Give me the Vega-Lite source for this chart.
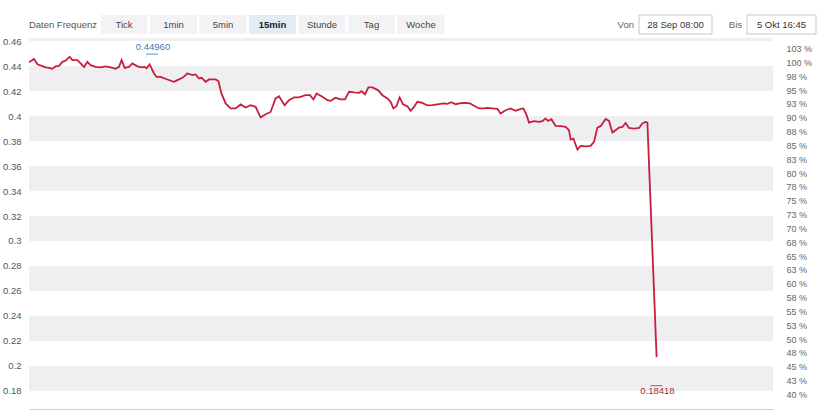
{
  "$schema": "https://vega.github.io/schema/vega-lite/v6.json",
  "padding": {"left": 2, "top": 14, "right": 5, "bottom": 5},
  "background": "white",
  "spacing": 1,
  "config": {
    "view": {"stroke": null},
    "font": "Liberation Sans",
    "axis": {"labelOverlap": false, "labelFlush": false, "labelBound": false, "ticks": false, "grid": false},
    "axisLeft": {"labelPadding": 8, "labelFontSize": 9.5, "labelColor": "#555", "domain": false, "labelOverlap": false},
    "axisRight": {"labelPadding": 13, "labelFontSize": 9, "labelColor": "#666", "domain": false, "labelOverlap": false}
  },
  "datasets": {
    "buttons": [{"label": "Tick"}, {"label": "1min"}, {"label": "5min"}, {"label": "15min"}, {"label": "Stunde"}, {"label": "Tag"}, {"label": "Woche"}],
    "bands": [{"lo": 0.18, "hi": 0.2}, {"lo": 0.22, "hi": 0.24}, {"lo": 0.26, "hi": 0.28}, {"lo": 0.3, "hi": 0.32}, {"lo": 0.34, "hi": 0.36}, {"lo": 0.38, "hi": 0.4}, {"lo": 0.42, "hi": 0.44}, {"lo": 0.46, "hi": 0.48}],
    "marks": [{"t": 61.5, "v": 0.4496, "label": "0.44960", "kind": "Hoch"}, {"t": 313.7, "v": 0.18418, "label": "0.18418", "kind": "Tief"}],
    "pct": [{"p": 40}, {"p": 102.5}],
    "series": [
      {"t": 0, "v": 0.443}, {"t": 2.5, "v": 0.4456}, {"t": 4.2, "v": 0.4414}, {"t": 6.7, "v": 0.44}, {"t": 8.3, "v": 0.439}, {"t": 10, "v": 0.4386}, {"t": 11.7, "v": 0.4378}, {"t": 13.3, "v": 0.4398}, {"t": 15, "v": 0.4402}, {"t": 16.7, "v": 0.4434}, {"t": 18.3, "v": 0.4443}, {"t": 20.3, "v": 0.4475}, {"t": 21.7, "v": 0.4448}, {"t": 24.2, "v": 0.4448}, {"t": 25.8, "v": 0.4422}, {"t": 27.5, "v": 0.4392}, {"t": 29.2, "v": 0.4434}, {"t": 30.8, "v": 0.4408}, {"t": 33.3, "v": 0.4394}, {"t": 35.8, "v": 0.439}, {"t": 38.3, "v": 0.4398}, {"t": 40.8, "v": 0.439}, {"t": 43.3, "v": 0.4378}, {"t": 45, "v": 0.4394}, {"t": 46.3, "v": 0.4448}, {"t": 47.8, "v": 0.4386}, {"t": 50, "v": 0.4394}, {"t": 51.7, "v": 0.4422}, {"t": 54.2, "v": 0.4398}, {"t": 56.2, "v": 0.439}, {"t": 57.8, "v": 0.4394}, {"t": 58.8, "v": 0.4382}, {"t": 60.3, "v": 0.4414}, {"t": 62.5, "v": 0.4341}, {"t": 63.8, "v": 0.4314}, {"t": 65.8, "v": 0.4314}, {"t": 69.2, "v": 0.4293}, {"t": 72.5, "v": 0.4274}, {"t": 74.2, "v": 0.4288}, {"t": 76.7, "v": 0.4306}, {"t": 79.2, "v": 0.4341}, {"t": 81.7, "v": 0.4328}, {"t": 83.3, "v": 0.4333}, {"t": 85, "v": 0.4301}, {"t": 86.3, "v": 0.4306}, {"t": 88.3, "v": 0.4274}, {"t": 90, "v": 0.4293}, {"t": 93.3, "v": 0.4293}, {"t": 94.7, "v": 0.428}, {"t": 96.2, "v": 0.4181}, {"t": 98.3, "v": 0.4101}, {"t": 100.8, "v": 0.4061}, {"t": 103.3, "v": 0.4061}, {"t": 105.8, "v": 0.4093}, {"t": 108.3, "v": 0.4069}, {"t": 110.8, "v": 0.4087}, {"t": 113.3, "v": 0.4074}, {"t": 115.8, "v": 0.3989}, {"t": 118.3, "v": 0.4015}, {"t": 120.8, "v": 0.4033}, {"t": 123.3, "v": 0.4141}, {"t": 125, "v": 0.4159}, {"t": 127.8, "v": 0.4087}, {"t": 130, "v": 0.4127}, {"t": 132.5, "v": 0.4149}, {"t": 135, "v": 0.4149}, {"t": 138.3, "v": 0.4167}, {"t": 140.5, "v": 0.4167}, {"t": 142.2, "v": 0.4133}, {"t": 143.8, "v": 0.4181}, {"t": 146.7, "v": 0.4154}, {"t": 149.2, "v": 0.4127}, {"t": 150.8, "v": 0.4122}, {"t": 153.3, "v": 0.4146}, {"t": 155.8, "v": 0.4133}, {"t": 158, "v": 0.4133}, {"t": 160, "v": 0.4194}, {"t": 162.5, "v": 0.4189}, {"t": 165, "v": 0.4186}, {"t": 166.3, "v": 0.4199}, {"t": 168, "v": 0.4175}, {"t": 169.7, "v": 0.4229}, {"t": 171.7, "v": 0.4229}, {"t": 174.5, "v": 0.4208}, {"t": 176.7, "v": 0.4167}, {"t": 179.2, "v": 0.4141}, {"t": 180.8, "v": 0.4114}, {"t": 182.2, "v": 0.4061}, {"t": 183.7, "v": 0.4079}, {"t": 185.3, "v": 0.4149}, {"t": 187, "v": 0.4095}, {"t": 189.2, "v": 0.4079}, {"t": 190.8, "v": 0.4042}, {"t": 192.5, "v": 0.4074}, {"t": 194.2, "v": 0.4114}, {"t": 196.7, "v": 0.4106}, {"t": 199.2, "v": 0.4085}, {"t": 201.7, "v": 0.4087}, {"t": 204.2, "v": 0.4093}, {"t": 207.5, "v": 0.4101}, {"t": 209.2, "v": 0.4098}, {"t": 211.2, "v": 0.4111}, {"t": 213.3, "v": 0.4095}, {"t": 215.8, "v": 0.4103}, {"t": 218.3, "v": 0.4106}, {"t": 220.5, "v": 0.4101}, {"t": 222.5, "v": 0.4082}, {"t": 225, "v": 0.4061}, {"t": 227.5, "v": 0.4061}, {"t": 229.2, "v": 0.4066}, {"t": 231.7, "v": 0.4061}, {"t": 234.2, "v": 0.4058}, {"t": 235.8, "v": 0.4021}, {"t": 238.3, "v": 0.4047}, {"t": 240.8, "v": 0.4061}, {"t": 243.3, "v": 0.4042}, {"t": 245.5, "v": 0.4055}, {"t": 247.2, "v": 0.4061}, {"t": 248.8, "v": 0.4007}, {"t": 250, "v": 0.3948}, {"t": 252.5, "v": 0.3959}, {"t": 255, "v": 0.3953}, {"t": 256.7, "v": 0.3959}, {"t": 258.3, "v": 0.3981}, {"t": 259.5, "v": 0.3961}, {"t": 261.2, "v": 0.3975}, {"t": 263.3, "v": 0.3921}, {"t": 265.8, "v": 0.3919}, {"t": 268.3, "v": 0.3913}, {"t": 270, "v": 0.3887}, {"t": 270.8, "v": 0.3812}, {"t": 272.2, "v": 0.382}, {"t": 274.2, "v": 0.3732}, {"t": 275.8, "v": 0.3761}, {"t": 278.3, "v": 0.3758}, {"t": 280.8, "v": 0.3761}, {"t": 282.5, "v": 0.3793}, {"t": 284.2, "v": 0.3908}, {"t": 285.8, "v": 0.3919}, {"t": 288.3, "v": 0.3977}, {"t": 290, "v": 0.3961}, {"t": 291.7, "v": 0.3868}, {"t": 293.3, "v": 0.3887}, {"t": 295, "v": 0.3908}, {"t": 296.7, "v": 0.3913}, {"t": 298.3, "v": 0.3945}, {"t": 300, "v": 0.3905}, {"t": 302.5, "v": 0.39}, {"t": 305, "v": 0.3905}, {"t": 306.7, "v": 0.394}, {"t": 308.3, "v": 0.3953}, {"t": 309.2, "v": 0.3947}, {"t": 313.8, "v": 0.207}
    ]
  },
  "vconcat": [
    {
      "spacing": 165,
      "hconcat": [
        {
          "spacing": 0,
          "hconcat": [
            {
              "width": 70, "height": 19,
              "data": {"values": [{"label": "Daten Frequenz"}]},
              "mark": {"type": "text", "fontSize": 9.5, "color": "#555", "align": "right", "dx": -2},
              "encoding": {"x": {"value": "width"}, "text": {"field": "label"}}
            },
            {
              "width": 347, "height": 19,
              "data": {"name": "buttons"},
              "encoding": {"x": {"field": "label", "type": "nominal", "sort": null, "scale": {"type": "band", "domain": ["Tick", "1min", "5min", "15min", "Stunde", "Tag", "Woche"], "paddingInner": 0.05, "paddingOuter": 0.03}, "axis": null}},
              "layer": [
                {"mark": {"type": "rect"}, "encoding": {"fill": {"condition": {"test": "datum.label === '15min'", "value": "#e3ebf5"}, "value": "#f3f3f5"}}},
                {"transform": [{"filter": "datum.label !== '15min'"}], "mark": {"type": "text", "fontSize": 9.5, "color": "#444"}, "encoding": {"text": {"field": "label"}}},
                {"transform": [{"filter": "datum.label === '15min'"}], "mark": {"type": "text", "fontSize": 9.5, "fontWeight": "bold", "color": "#1a1a1a"}, "encoding": {"text": {"field": "label"}}}
              ]
            }
          ]
        },
        {
          "spacing": 0,
          "hconcat": [
            {
              "width": 27, "height": 19,
              "data": {"values": [{"label": "Von"}]},
              "mark": {"type": "text", "fontSize": 9.5, "color": "#666", "align": "right", "dx": -4},
              "encoding": {"x": {"value": "width"}, "text": {"field": "label"}}
            },
            {
              "width": 73, "height": 19,
              "data": {"values": [{"label": "28 Sep 08:00"}]},
              "encoding": {"x": {"field": "label", "type": "nominal", "scale": {"type": "band", "paddingInner": 0, "paddingOuter": 0}, "axis": null}},
              "layer": [
                {"mark": {"type": "rect", "fill": "white", "stroke": "#c8c8c8", "strokeWidth": 1}},
                {"mark": {"type": "text", "fontSize": 9.5, "color": "#333"}, "encoding": {"text": {"field": "label"}}}
              ]
            },
            {
              "width": 33, "height": 19,
              "data": {"values": [{"label": "Bis"}]},
              "mark": {"type": "text", "fontSize": 9.5, "color": "#666", "align": "right", "dx": -4},
              "encoding": {"x": {"value": "width"}, "text": {"field": "label"}}
            },
            {
              "width": 69, "height": 19,
              "data": {"values": [{"label": "5 Okt 16:45"}]},
              "encoding": {"x": {"field": "label", "type": "nominal", "scale": {"type": "band", "paddingInner": 0, "paddingOuter": 0}, "axis": null}},
              "layer": [
                {"mark": {"type": "rect", "fill": "white", "stroke": "#c8c8c8", "strokeWidth": 1}},
                {"mark": {"type": "text", "fontSize": 9.5, "color": "#333"}, "encoding": {"text": {"field": "label"}}}
              ]
            }
          ]
        }
      ]
    },
    {
      "width": 744, "height": 371,
      "layer": [
        {
          "layer": [
            {
              "data": {"name": "bands"},
              "mark": {"type": "rect", "color": "#efeff2", "clip": true},
              "encoding": {
                "y": {"field": "lo", "type": "quantitative", "scale": {"domain": [0.1655, 0.4625], "nice": false, "zero": false},
                  "axis": {"orient": "left", "values": [0.18, 0.2, 0.22, 0.24, 0.26, 0.28, 0.3, 0.32, 0.34, 0.36, 0.38, 0.4, 0.42, 0.44, 0.46], "format": ".2~f", "title": null, "labelOverlap": false}},
                "y2": {"field": "hi"}
              }
            },
            {
              "data": {"name": "series"},
              "mark": {"type": "line", "color": "#c51f3d", "strokeWidth": 1.8, "clip": true},
              "encoding": {
                "x": {"field": "t", "type": "quantitative", "scale": {"domain": [0, 372], "nice": false, "zero": false},
                  "axis": {"title": null, "labels": false, "ticks": false, "grid": false, "domain": true, "domainColor": "#cfcfcf", "domainWidth": 1}},
                "y": {"field": "v", "type": "quantitative",
                  "axis": {"orient": "left", "values": [0.18, 0.2, 0.22, 0.24, 0.26, 0.28, 0.3, 0.32, 0.34, 0.36, 0.38, 0.4, 0.42, 0.44, 0.46], "format": ".2~f", "title": null, "labelOverlap": false}}
              }
            },
            {
              "data": {"name": "marks"},
              "mark": {"type": "tick", "orient": "horizontal", "size": 12, "thickness": 1.2},
              "encoding": {
                "x": {"field": "t", "type": "quantitative"},
                "y": {"field": "v", "type": "quantitative",
                  "axis": {"orient": "left", "values": [0.18, 0.2, 0.22, 0.24, 0.26, 0.28, 0.3, 0.32, 0.34, 0.36, 0.38, 0.4, 0.42, 0.44, 0.46], "format": ".2~f", "title": null, "labelOverlap": false}},
                "color": {"field": "kind", "type": "nominal", "scale": {"domain": ["Hoch", "Tief"], "range": ["#3d7cb1", "#a3303f"]}, "legend": null}
              }
            },
            {
              "data": {"name": "marks"},
              "transform": [{"filter": "datum.kind === 'Hoch'"}],
              "mark": {"type": "text", "fontSize": 9.5, "baseline": "bottom", "dy": -2, "dx": 1},
              "encoding": {
                "x": {"field": "t", "type": "quantitative"},
                "y": {"field": "v", "type": "quantitative",
                  "axis": {"orient": "left", "values": [0.18, 0.2, 0.22, 0.24, 0.26, 0.28, 0.3, 0.32, 0.34, 0.36, 0.38, 0.4, 0.42, 0.44, 0.46], "format": ".2~f", "title": null, "labelOverlap": false}},
                "text": {"field": "label"},
                "color": {"field": "kind", "type": "nominal", "legend": null}
              }
            },
            {
              "data": {"name": "marks"},
              "transform": [{"filter": "datum.kind === 'Tief'"}],
              "mark": {"type": "text", "fontSize": 9.5, "baseline": "top", "dy": 0, "dx": 1},
              "encoding": {
                "x": {"field": "t", "type": "quantitative"},
                "y": {"field": "v", "type": "quantitative",
                  "axis": {"orient": "left", "values": [0.18, 0.2, 0.22, 0.24, 0.26, 0.28, 0.3, 0.32, 0.34, 0.36, 0.38, 0.4, 0.42, 0.44, 0.46], "format": ".2~f", "title": null, "labelOverlap": false}},
                "text": {"field": "label"},
                "color": {"field": "kind", "type": "nominal", "legend": null}
              }
            }
          ]
        },
        {
          "data": {"name": "pct"},
          "mark": {"type": "point", "opacity": 0},
          "encoding": {
            "y": {"field": "p", "type": "quantitative", "scale": {"domain": [37.36, 104.4], "nice": false, "zero": false},
              "axis": {"orient": "right", "values": [40, 42.5, 45, 47.5, 50, 52.5, 55, 57.5, 60, 62.5, 65, 67.5, 70, 72.5, 75, 77.5, 80, 82.5, 85, 87.5, 90, 92.5, 95, 97.5, 100, 102.5], "labelExpr": "round(datum.value) + ' %'", "title": null, "labelOverlap": false}}
          }
        }
      ],
      "resolve": {"scale": {"y": "independent"}}
    }
  ]
}
